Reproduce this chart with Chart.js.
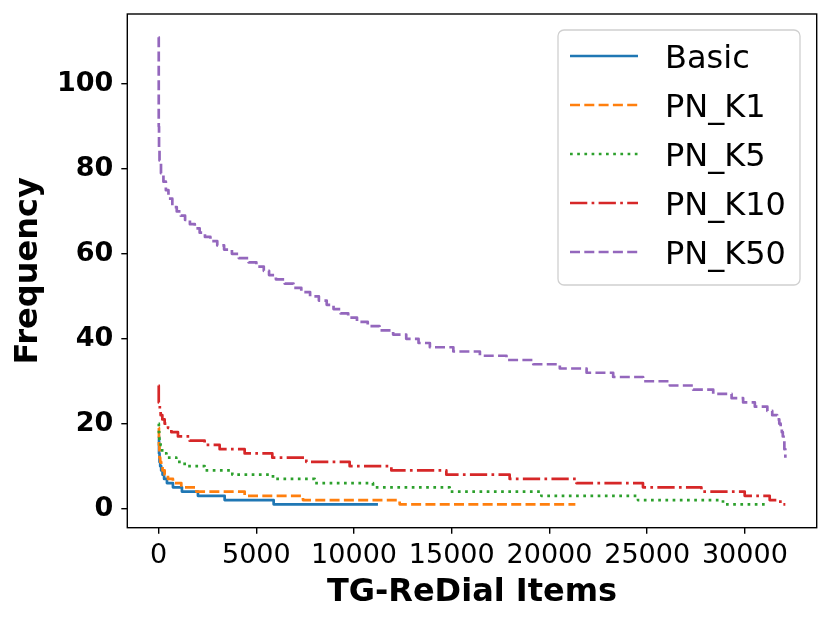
<!DOCTYPE html>
<html>
<head>
<meta charset="utf-8">
<script src="https://cdn.jsdelivr.net/npm/chart.js@4/dist/chart.umd.min.js"></script>
<style>
  html, body { margin: 0; padding: 0; background: #fff; }
  #wrap { width: 831px; height: 623px; }
</style>
</head>
<body>
<div id="wrap"><canvas id="chart-freq" width="831" height="623"></canvas></div>
<script>
// ── Données (x = début de chaque palier, y = fréquence) ──
const labels = ['Basic', 'PN_K1', 'PN_K5', 'PN_K10', 'PN_K50']

const basicX = [0, 20, 45, 80, 130, 200, 280, 425, 732, 1192, 2011, 3378, 5885, 11223]
const basicY = [17, 13, 11, 10, 9, 8, 7, 6, 5, 4, 3, 2, 1, 1]

const pnK1X = [0, 15, 40, 80, 130, 200, 307, 477, 732, 1160, 1928, 4401, 7386, 12334, 21325]
const pnK1Y = [19, 15, 12, 11, 10, 9, 8, 7, 6, 5, 4, 3, 2, 1, 1]

const pnK5X = [0, 10, 40, 100, 180, 400, 904, 1331, 2354, 3770, 5851, 7984, 10969, 14893, 19585, 24529, 28879, 31100]
const pnK5Y = [20, 18, 16, 15, 13, 12, 11, 10, 9, 8, 7, 6, 5, 4, 3, 2, 1, 1]

const pnK10X = [0, 5, 60, 102, 189, 307, 480, 650, 988, 1586, 2354, 3122, 4401, 5817, 7557, 9775, 11909, 14723, 17963, 21376, 24785, 27774, 29990, 31269, 31815, 32070]
const pnK10Y = [29, 25, 23, 22, 21, 20, 19, 18, 17, 16, 15, 14, 13, 12, 11, 10, 9, 8, 7, 6, 5, 4, 3, 2, 1, 1]

const pnK50X = [0, 5, 20, 45, 120, 245, 370, 502, 700, 927, 1130, 1353, 1600, 1850, 2100, 2370, 2650, 3000, 3350, 3750,
    4100, 4600, 5000, 5380, 5650, 6000, 6450, 6900, 7300, 7750, 8200, 8600, 8950, 9300, 9700, 10150, 10700, 11300, 12000, 12670,
    13300, 13880, 15080, 16440, 17800, 19170, 20530, 21900, 23260, 24790, 26160, 27350, 28380, 29320, 29910, 30510, 31150, 31400, 31650, 31760,
    31830, 31890, 31940, 31980, 32020, 32070]
const pnK50Y = [111, 90, 85, 82, 79, 77, 75, 73, 71, 70, 69, 68, 67, 66, 65, 64, 63, 62, 61, 60,
    59, 58, 57, 56, 55, 54, 53, 52, 51, 50, 49, 48, 47, 46, 45, 44, 43, 42, 41, 40,
    39, 38, 37, 36, 35, 34, 33, 32, 31, 30, 29, 28, 27, 26, 25, 24, 23, 22, 21, 20,
    19, 18, 17, 16, 14, 12]

const xTicks = [0, 5000, 10000, 15000, 20000, 25000, 30000]
const yTicks = [0, 20, 40, 60, 80, 100]

// ── Styles ─────────────────────────────────────────────────────────────
const colors = ['#1f77b4', '#ff7f0e', '#2ca02c', '#d62728', '#9467bd']
const dashes = [[], [10, 4.3], [2.7, 4.5], [17.3, 4.3, 2.7, 4.3], [10, 4.3]]
const lw     = 2.7
const font   = 'DejaVu Sans'

const toPoints = (xs, ys) => xs.map((x, i) => ({ x, y: ys[i] }))
const seriesData = [
    toPoints(basicX, basicY),
    toPoints(pnK1X, pnK1Y),
    toPoints(pnK5X, pnK5Y),
    toPoints(pnK10X, pnK10Y),
    toPoints(pnK50X, pnK50Y),
]

// ── Cadre (4 côtés) ────────────────────────────────────────────────────
const frame = {
    id: 'frame',
    afterDatasetsDraw(chart) {
        const { ctx, chartArea: a } = chart
        ctx.save()
        ctx.strokeStyle = '#000'
        ctx.lineWidth = 1.4
        ctx.strokeRect(a.left, a.top, a.right - a.left, a.bottom - a.top)
        ctx.restore()
    }
}

// ── Légende façon matplotlib (en haut à droite) ────────────────────────
const legendBox = {
    id: 'legendBox',
    afterDraw(chart) {
        const { ctx, chartArea: a } = chart
        const w = 242, h = 255
        const x0 = a.right - 16.7 - w, y0 = a.top + 16
        ctx.save()
        ctx.beginPath()
        ctx.roundRect(x0, y0, w, h, 6)
        ctx.fillStyle = 'rgba(255,255,255,0.8)'
        ctx.fill()
        ctx.strokeStyle = '#d0d0d0'
        ctx.lineWidth = 1.3
        ctx.stroke()

        ctx.font = `32px "${font}"`
        ctx.textBaseline = 'alphabetic'
        chart.data.datasets.forEach((ds, i) => {
            const y = y0 + 26 + i * 49
            ctx.beginPath()
            ctx.setLineDash(dashes[i])
            ctx.strokeStyle = colors[i]
            ctx.lineWidth = lw
            ctx.moveTo(x0 + 12, y)
            ctx.lineTo(x0 + 80, y)
            ctx.stroke()
            ctx.setLineDash([])
            ctx.fillStyle = '#000'
            ctx.fillText(ds.label, x0 + 107, y + 11.7)
        })
        ctx.restore()
    }
}

new Chart(document.getElementById('chart-freq'), {
    type: 'line',
    data: {
        datasets: labels.map((label, i) => ({
            label,
            data: seriesData[i],
            borderColor: colors[i],
            backgroundColor: colors[i],
            borderWidth: lw,
            borderDash: dashes[i],
            borderJoinStyle: 'round',
            stepped: 'before',
            pointRadius: 0,
            fill: false,
            order: labels.length - i,
        }))
    },
    options: {
        responsive: false,
        animation: false,
        devicePixelRatio: 1,
        layout: { padding: { left: 0, top: 14, right: 14.3, bottom: 0 } },
        plugins: { legend: { display: false }, tooltip: { enabled: false } },
        scales: {
            x: {
                type: 'linear',
                min: -1604,
                max: 33675,
                afterBuildTicks: s => { s.ticks = xTicks.map(v => ({ value: v })) },
                afterFit: s => { s.height = 95.3; s.paddingLeft = 0; s.paddingRight = 0 },
                ticks: { color: '#000', padding: 6, font: { family: font, size: 27 }, callback: v => String(v) },
                grid: { display: true, drawOnChartArea: false, drawTicks: true, tickLength: 6, color: '#000', lineWidth: 1.4 },
                border: { display: false },
                title: { display: true, text: 'TG-ReDial Items', color: '#000', padding: { top: 0, bottom: 11 },
                         font: { family: font, size: 32, weight: 'bold' } },
            },
            y: {
                min: -4.5,
                max: 116.5,
                afterBuildTicks: s => { s.ticks = yTicks.map(v => ({ value: v })) },
                afterFit: s => { s.width = 127.3; s.paddingTop = 0; s.paddingBottom = 0 },
                ticks: { color: '#000', padding: 8, font: { family: font, size: 27, weight: 'bold' } },
                grid: { display: true, drawOnChartArea: false, drawTicks: true, tickLength: 6, color: '#000', lineWidth: 1.4 },
                border: { display: false },
                title: { display: true, text: 'Frequency', color: '#000', padding: { top: 9, bottom: 0 },
                         font: { family: font, size: 32, weight: 'bold' } },
            }
        }
    },
    plugins: [frame, legendBox]
})
</script>
</body>
</html>
